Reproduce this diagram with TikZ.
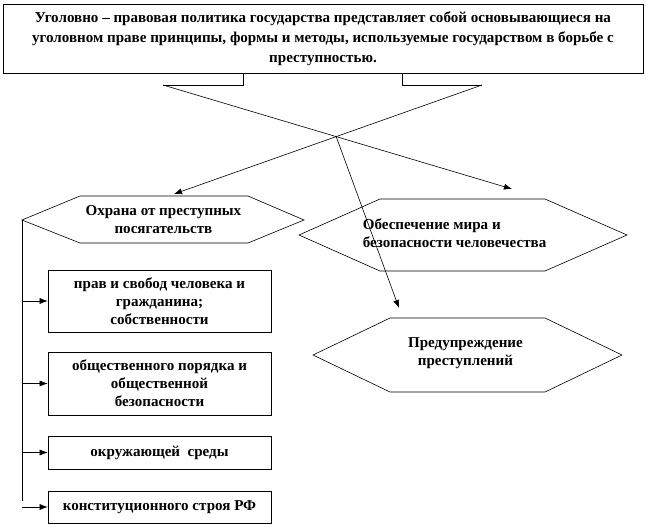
\documentclass[tikz,border=0pt]{standalone}
\usepackage{fontspec}
\setmainfont{Liberation Serif}
\usepackage{tikz}
\usetikzlibrary{arrows.meta}

\begin{document}
\begin{tikzpicture}[line width=0.6pt, font=\bfseries\fontsize{15}{18}\selectfont,
	>={Latex[length=8pt,width=6pt]},
	box/.style={draw, minimum width=7.805cm, inner sep=0pt, align=center}]
		\useasboundingbox (0,0) rectangle (22.61,-18.41);
		% callout at the top
		\node[draw, minimum width=22.4cm, minimum height=2.415cm, inner sep=0pt, align=center, font=\bfseries\fontsize{15}{20}\selectfont] at (11.305,-1.36) (policy) {Уголовно – правовая политика государства представляет собой основывающиеся на\\уголовном праве принципы, формы и методы, используемые государством в борьбе с\\преступностью.};
		\draw (8.505,-2.5675) -- (8.505,-2.975) -- (5.705,-2.975) coordinate (tl);
		\draw (14.07,-2.5675) -- (14.07,-2.975) -- (16.87,-2.975) coordinate (tr);
		% hexagons
		\draw (0.77,-7.70) coordinate (gl) -- (2.80,-6.86) -- (8.68,-6.86) -- (10.64,-7.70) -- (8.68,-8.505) -- (2.80,-8.505) -- cycle;
		\node[align=center] at (5.72,-7.70) (guard) {Охрана от преступных\\посягательств};
		\draw (10.465,-8.225) -- (13.30,-6.965) -- (19.075,-6.965) -- (21.945,-8.225) -- (19.075,-9.485) -- (13.30,-9.485) -- cycle;
		\node[align=left] at (15.91,-8.155) (peace) {Обеспечение мира и\\безопасности человечества};
		\draw (10.955,-12.425) -- (13.65,-11.13) -- (19.075,-11.13) -- (21.77,-12.425) -- (19.075,-13.72) -- (13.65,-13.72) -- cycle;
		\node[align=center] at (16.29,-12.355) (prev) {Предупреждение\\преступлений};
		% boxes on the left
		\node[box, minimum height=2.17cm] at (5.5825,-10.535) (b1) {прав и свобод человека и\\гражданина;\\собственности};
		\node[box, minimum height=2.205cm] at (5.5825,-13.4225) (b2) {общественного порядка и\\общественной\\безопасности};
		\node[box, minimum height=1.155cm] at (5.5825,-15.8375) (b3) {окружающей \ среды};
		\node[box, minimum height=1.12cm] at (5.5825,-17.745) (b4) {конституционного строя РФ};
		% arrows
		\coordinate (tipL) at (6.09,-6.79);
		\coordinate (tipR) at (17.92,-6.615);
		\coordinate (tipP) at (13.965,-10.78);
		\draw[->] (tl) -- (tipR);
		\draw[->] (tr) -- (tipL);
		\coordinate (cross) at (intersection of tl--tipR and tr--tipL);
		\draw[->] (cross) -- (tipP);
		\draw (gl) -- (0.77,-17.55);
		\draw[->] (gl |- b1.west) -- (b1.west);
		\draw[->] (gl |- b2.west) -- (b2.west);
		\draw[->] (gl |- b3.west) -- (b3.west);
		\draw[->] (gl |- b4.west) -- (b4.west);
	\end{tikzpicture}
\end{document}
